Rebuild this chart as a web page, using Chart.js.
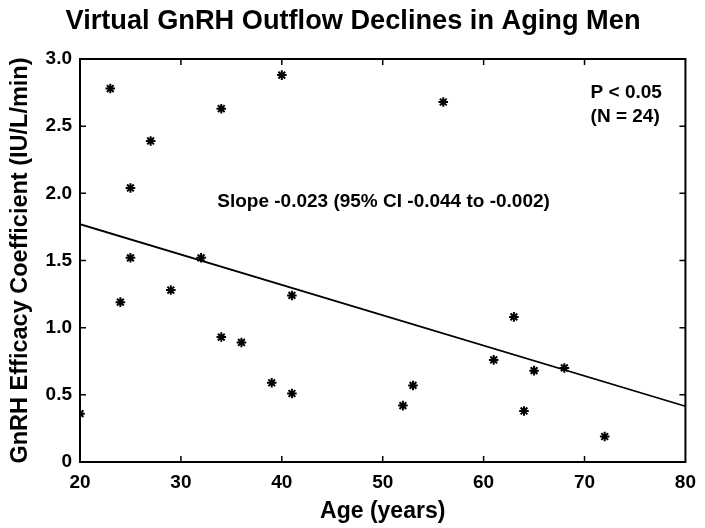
<!DOCTYPE html>
<html><head><meta charset="utf-8">
<script src="https://cdn.jsdelivr.net/npm/chart.js@4"></script>
<style>html,body{margin:0;padding:0;background:#fff;}#wrap{width:705px;height:528px;}</style>
</head><body><div id="wrap"><canvas id="c"></canvas></div>
<script>
const ageValues = [20,23,24,25,25,27,29,32,34,34,36,39,40,41,41,52,53,56,61,63,64,65,68,72];
const efficacyValues = [0.36,2.78,1.19,2.04,1.52,2.39,1.28,1.52,2.63,0.93,0.89,0.59,2.88,1.24,0.51,0.42,0.57,2.68,0.76,1.08,0.38,0.68,0.70,0.19];
const fitAges = [20,80];
const fitValues = [1.77,0.415];
const xTicks = [20,30,40,50,60,70,80];
const yTicks = [0,0.5,1.0,1.5,2.0,2.5,3.0];
const titleText = 'Virtual GnRH Outflow Declines in Aging Men';
const xTitle = 'Age (years)';
const yTitle = 'GnRH Efficacy Coefficient (IU/L/min)';
const slopeText = 'Slope -0.023 (95% CI -0.044 to -0.002)';
const pText = 'P < 0.05';
const nText = '(N = 24)';

const FONT = "'Liberation Sans', Arial, sans-serif";

const points = ageValues.map((a,i)=>({x:a,y:efficacyValues[i]}));
const fit = fitAges.map((a,i)=>({x:a,y:fitValues[i]}));

const framePlugin = {
  id:'frame',
  afterDatasetsDraw(chart){
    const {ctx, chartArea:a, scales:{x,y}} = chart;
    ctx.save();
    ctx.strokeStyle='#000';
    ctx.lineWidth=2;
    ctx.strokeRect(a.left,a.top,a.right-a.left,a.bottom-a.top);
    ctx.lineWidth=1.5;
    ctx.beginPath();
    xTicks.slice(1,-1).forEach(v=>{const p=x.getPixelForValue(v);ctx.moveTo(p,a.bottom);ctx.lineTo(p,a.bottom-6);ctx.moveTo(p,a.top);ctx.lineTo(p,a.top+6);});
    yTicks.slice(1,-1).forEach(v=>{const p=y.getPixelForValue(v);ctx.moveTo(a.left,p);ctx.lineTo(a.left+6,p);ctx.moveTo(a.right,p);ctx.lineTo(a.right-6,p);});
    ctx.stroke();
    ctx.fillStyle='#000';
    ctx.textBaseline='middle';
    ctx.textAlign='left';
    ctx.font='bold 19px '+FONT;
    ctx.fillText(slopeText, x.getPixelForValue(33.6), y.getPixelForValue(1.94));
    ctx.fillText(pText, x.getPixelForValue(70.6), y.getPixelForValue(2.745));
    ctx.fillText(nText, x.getPixelForValue(70.6), y.getPixelForValue(2.57));
    ctx.textAlign='center';
    ctx.font='bold 27.2px '+FONT;
    ctx.fillText(titleText, 353, 22);
    ctx.restore();
  }
};

new Chart(document.getElementById('c'),{
  type:'scatter',
  data:{datasets:[
    {data:points, pointStyle:'star', radius:4.8, borderColor:'#000', backgroundColor:'#000', borderWidth:2, hoverRadius:4.8},
    {data:fit, showLine:true, pointRadius:0, borderColor:'#000', borderWidth:1.8, fill:false}
  ]},
  options:{
    responsive:true, maintainAspectRatio:false, animation:false,
    layout:{padding:{top:59,right:19,left:0,bottom:0}},
    plugins:{legend:{display:false},tooltip:{enabled:false},title:{display:false}},
    scales:{
      x:{type:'linear',min:20,max:80,
        afterBuildTicks(s){s.ticks=xTicks.map(v=>({value:v}));},
        afterFit(s){s.height=66;},
        grid:{display:false,drawTicks:false},border:{display:false},
        ticks:{color:'#000',font:{family:FONT,size:19,weight:'bold'},padding:9,maxRotation:0,
          callback:v=>String(v)},
        title:{display:true,text:xTitle,color:'#000',font:{family:FONT,size:23,weight:'bold'},padding:{top:0,bottom:3}}
      },
      y:{type:'linear',min:0,max:3,
        afterBuildTicks(s){s.ticks=yTicks.map(v=>({value:v}));},
        afterFit(s){s.width=80;},
        grid:{display:false,drawTicks:false},border:{display:false},
        ticks:{color:'#000',font:{family:FONT,size:19,weight:'bold'},padding:8,
          callback:v=>v===0?'0':v.toFixed(1)},
        title:{display:true,text:yTitle,color:'#000',font:{family:FONT,size:23.5,weight:'bold'},padding:{top:6,bottom:0}}
      }
    }
  },
  plugins:[framePlugin]
});
</script></body></html>
